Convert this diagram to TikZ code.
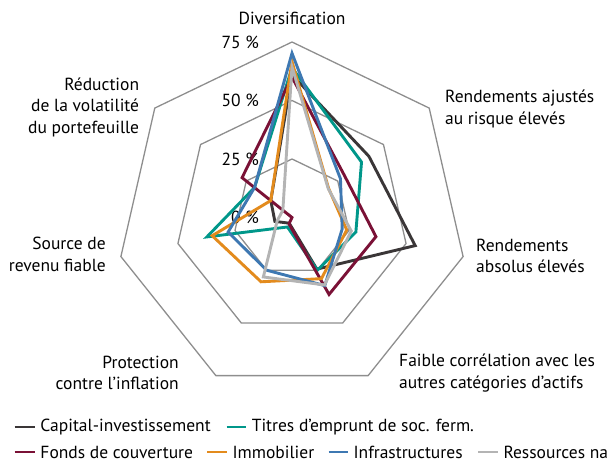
\documentclass[tikz,border=0pt]{standalone}
\usepackage{fontspec}
\setmainfont{PT Sans}
\definecolor{gris}{HTML}{8E8E8E}
\definecolor{capital}{HTML}{3A3637}
\definecolor{titres}{HTML}{00978A}
\definecolor{fonds}{HTML}{7A1136}
\definecolor{immo}{HTML}{E38B1D}
\definecolor{infra}{HTML}{3E78B2}
\definecolor{ressources}{HTML}{B4B4B4}
% one closed polygon per series, values in percent, clockwise from the top
\newcommand{\radar}[8]{%
  \draw[serie,#1] (90:{#2*\u}) -- ({90-\a}:{#3*\u}) -- ({90-2*\a}:{#4*\u})
    -- ({90-3*\a}:{#5*\u}) -- ({90-4*\a}:{#6*\u}) -- ({90-5*\a}:{#7*\u})
    -- ({90-6*\a}:{#8*\u}) -- cycle;}
\begin{document}
\begin{tikzpicture}[x=1pt,y=1pt,
    grille/.style={draw=gris,line width=1.3pt},
    serie/.style={line width=2.9pt,line join=miter,miter limit=10},
    txt/.style={font=\fontsize{17.5}{21.5}\selectfont,inner sep=0pt},
    cle/.style={line width=2.9pt}]
        \def\u{2.34} \def\a{51.4286}
        \useasboundingbox (-292,-244.5) rectangle (315,217.5);
        \clip (-292,-244.5) rectangle (315,217.5);

        % rings
        \foreach \r in {25,50,75}
          \draw[grille] (90:{\r*\u}) \foreach \k in {1,...,6} {-- ({90-\k*\a}:{\r*\u})} -- cycle;

        \node[txt,anchor=east] (p75) at (-33,{75*\u}) {75 \%};
        \node[txt,anchor=east] (p50) at (-33,{50*\u}) {50 \%};
        \node[txt,anchor=east] (p25) at (-33,{25*\u}) {25 \%};
        \node[txt,anchor=east] (p0) at (-33,0) {0 \%};

        % series
        \radar{capital}{61}{42}{54}{24.5}{2.7}{7.5}{11.6}
        \radar{titres}{64}{38}{28}{25}{4.5}{37.3}{20.5}
        \radar{fonds}{60}{28.7}{36.8}{36.5}{3}{0}{27.3}
        \radar{immo}{66.6}{20}{24}{29}{30.5}{35}{11.6}
        \radar{infra}{70.2}{26.5}{22}{32.3}{25}{28}{20.5}
        \radar{ressources}{64.4}{19.8}{26}{32}{28.2}{6.5}{5}

        % axis labels
        \node[txt] (diversif) at (0,199.5) {Diversification};
        \node[txt,anchor=west,align=left] (ajustes) at (153,108.5) {Rendements ajustés\\au risque élevés};
        \node[txt,anchor=west,align=left] (absolus) at (184,-38.5) {Rendements\\absolus élevés};
        \node[txt,anchor=west,align=left] (correl) at (107,-155.5) {Faible corrélation avec les\\autres catégories d’actifs};
        \node[txt,anchor=east,align=right] (inflation) at (-113,-155.5) {Protection\\contre l’inflation};
        \node[txt,anchor=east,align=right] (revenu) at (-186,-37) {Source de\\revenu fiable};
        \node[txt,anchor=east,align=right] (volatil) at (-152.7,110.5) {Réduction\\de la volatilité\\du portefeuille};

        % legend
        \draw[cle,capital] (-277.4,-209.5) -- (-257.4,-209.5);
        \node[txt,anchor=west] (lcapital) at (-251.7,-209.5) {Capital-investissement};
        \draw[cle,titres] (-65.3,-209.5) -- (-46.1,-209.5);
        \node[txt,anchor=west] (ltitres) at (-40.4,-209.5) {Titres d’emprunt de soc. ferm.};
        \draw[cle,fonds] (-277.4,-234.5) -- (-257.4,-234.5);
        \node[txt,anchor=west] (lfonds) at (-251.7,-234.5) {Fonds de couverture};
        \draw[cle,immo] (-84.5,-234.5) -- (-65.3,-234.5);
        \node[txt,anchor=west] (limmo) at (-59.6,-234.5) {Immobilier};
        \draw[cle,infra] (36.5,-234.5) -- (55.7,-234.5);
        \node[txt,anchor=west] (linfra) at (61.4,-234.5) {Infrastructures};
        \draw[cle,ressources] (186.3,-234.5) -- (205.5,-234.5);
        \node[txt,anchor=west] (lressources) at (211.3,-234.5) {Ressources naturelles};
\end{tikzpicture}
\end{document}
